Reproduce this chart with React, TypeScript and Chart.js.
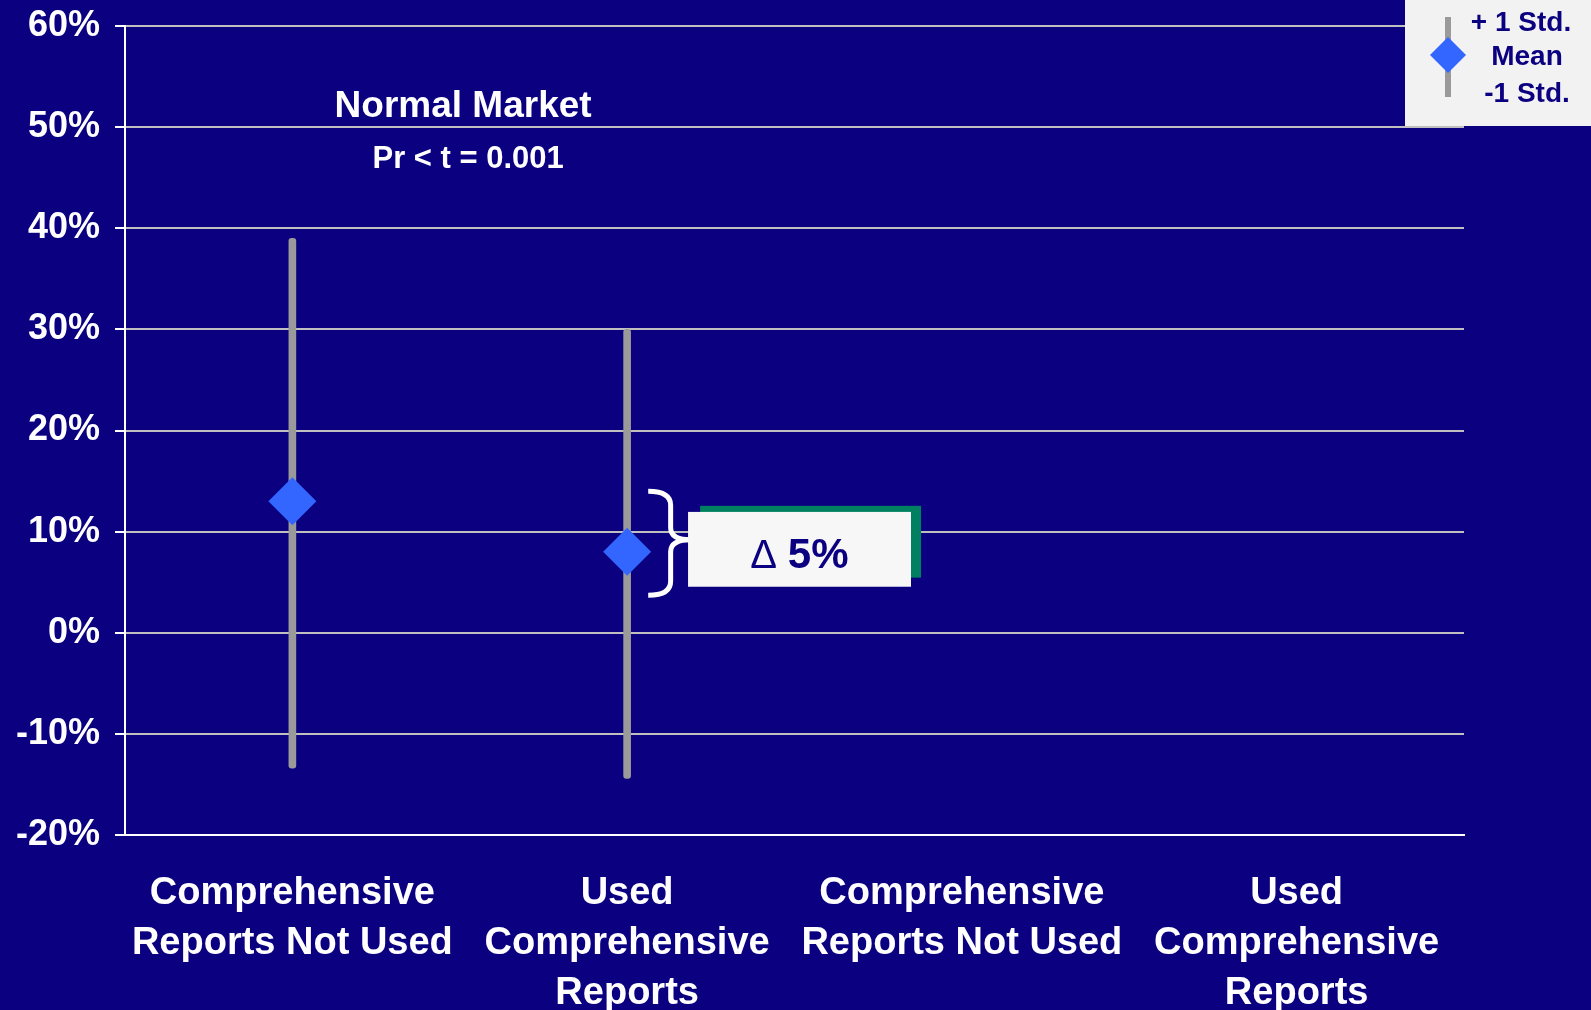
import React, { useEffect, useRef } from "react";
import { Chart, registerables } from "chart.js";

Chart.register(...registerables);

// ---- data ----
const categories: string[][] = [
  ["Comprehensive", "Reports Not Used"],
  ["Used", "Comprehensive", "Reports"],
  ["Comprehensive", "Reports Not Used"],
  ["Used", "Comprehensive", "Reports"],
];
const meanValues: (number | null)[] = [13, 8, null, null];
const upperValues: (number | null)[] = [39, 30, null, null];
const lowerValues: (number | null)[] = [-13.4, -14.4, null, null];
const yMin = -20;
const yMax = 60;
const yStep = 10;
const titleText = "Normal Market";
const subtitleText = "Pr < t = 0.001";
const deltaSymbol = "\u0394";
const deltaValue = "5%";
const legendLabels = ["+ 1 Std.", "Mean", "-1 Std."];

// ---- styles ----
const BG = "#0b0080";
const NAVY = "#0b0080";
const DIAMOND = "#3366ff";
const BAR = "#9a9a9a";
const GRID = "#bfbfbf";
const FONT = "'Liberation Sans', Arial, sans-serif";

const W = 1591;
const H = 1010;

function diamond(ctx: CanvasRenderingContext2D, x: number, y: number, r: number) {
  ctx.beginPath();
  ctx.moveTo(x, y - r);
  ctx.lineTo(x + r, y);
  ctx.lineTo(x, y + r);
  ctx.lineTo(x - r, y);
  ctx.closePath();
  ctx.fill();
}

const decorPlugin = {
  id: "decor",
  beforeDraw(chart: any) {
    const ctx = chart.ctx;
    ctx.save();
    ctx.fillStyle = BG;
    ctx.fillRect(0, 0, chart.width, chart.height);
    ctx.restore();
  },
  afterDraw(chart: any) {
    const ctx: CanvasRenderingContext2D = chart.ctx;
    const xs = chart.scales.x;
    const ys = chart.scales.y;
    const x0 = xs.getPixelForValue(0);
    const x1 = xs.getPixelForValue(1);
    const xAt = (c: number) => x0 + c * (x1 - x0);
    const yAt = (v: number) => ys.getPixelForValue(v);

    ctx.save();
    // title
    ctx.fillStyle = "#ffffff";
    ctx.textAlign = "center";
    ctx.textBaseline = "alphabetic";
    ctx.font = `bold 37px ${FONT}`;
    ctx.fillText(titleText, xAt(0.51), yAt(51.0));
    ctx.font = `bold 31px ${FONT}`;
    ctx.fillText(subtitleText, xAt(0.525), yAt(46.0));

    // brace
    const bx0 = xAt(1.063);
    const bxm = xAt(1.13);
    const bxt = xAt(1.19);
    const yt = yAt(14.0);
    const yb = yAt(3.7);
    const ym = yAt(9.2);
    ctx.strokeStyle = "#ffffff";
    ctx.lineWidth = 5;
    ctx.lineCap = "butt";
    ctx.beginPath();
    ctx.moveTo(bx0, yt);
    ctx.quadraticCurveTo(bxm, yt, bxm, yt + 14);
    ctx.lineTo(bxm, ym - 12);
    ctx.quadraticCurveTo(bxm, ym, bxt, ym);
    ctx.quadraticCurveTo(bxm, ym, bxm, ym + 12);
    ctx.lineTo(bxm, yb - 14);
    ctx.quadraticCurveTo(bxm, yb, bx0, yb);
    ctx.stroke();

    // green shadow box
    ctx.fillStyle = "#008060";
    const gx0 = xAt(1.218), gx1 = xAt(1.878);
    const gy0 = yAt(12.55), gy1 = yAt(5.45);
    ctx.fillRect(gx0, gy0, gx1 - gx0, gy1 - gy0);
    // white box
    ctx.fillStyle = "#f7f7f7";
    const wx0 = xAt(1.182), wx1 = xAt(1.848);
    const wy0 = yAt(11.95), wy1 = yAt(4.55);
    ctx.fillRect(wx0, wy0, wx1 - wx0, wy1 - wy0);
    // delta text
    ctx.fillStyle = NAVY;
    ctx.textAlign = "left";
    ctx.font = `40px ${FONT}`;
    ctx.fillText(deltaSymbol, xAt(1.368), yAt(6.4));
    ctx.font = `bold 42px ${FONT}`;
    ctx.fillText(deltaValue, xAt(1.48), yAt(6.4));

    // legend
    const lx = chart.width - 186;
    ctx.fillStyle = "#f2f2f2";
    ctx.fillRect(lx, 0, 186, 126);
    ctx.fillStyle = BAR;
    ctx.fillRect(lx + 40, 17, 6, 80);
    ctx.fillStyle = DIAMOND;
    diamond(ctx, lx + 43, 55, 18);
    ctx.fillStyle = NAVY;
    ctx.textAlign = "center";
    ctx.font = `bold 28px ${FONT}`;
    ctx.fillText(legendLabels[0], lx + 116, 31);
    ctx.fillText(legendLabels[1], lx + 122, 65);
    ctx.fillText(legendLabels[2], lx + 122, 102);
    ctx.restore();
  },
};

export default function App() {
  const ref = useRef<HTMLCanvasElement | null>(null);

  useEffect(() => {
    document.body.style.margin = "0";
    document.body.style.background = BG;
    const canvas = ref.current;
    if (!canvas) return;
    const ranges = lowerValues.map((lo, i) =>
      lo === null || upperValues[i] === null ? null : [lo, upperValues[i] as number]
    );
    const chart = new Chart(canvas, {
      type: "bar",
      data: {
        labels: categories,
        datasets: [
          {
            type: "line",
            label: "Mean",
            data: meanValues,
            showLine: false,
            pointStyle: "rectRot",
            pointRadius: 24,
            pointBackgroundColor: DIAMOND,
            pointBorderColor: DIAMOND,
            pointBorderWidth: 0,
            order: 0,
          } as any,
          {
            type: "bar",
            label: "Std",
            data: ranges as any,
            backgroundColor: BAR,
            borderWidth: 0,
            barThickness: 7,
            borderRadius: 3,
            borderSkipped: false,
            order: 1,
          } as any,
        ],
      },
      options: {
        responsive: false,
        animation: false,
        events: [],
        layout: { padding: { top: 26, right: 127, left: 0, bottom: 0 } },
        plugins: {
          legend: { display: false },
          tooltip: { enabled: false },
          title: { display: false },
        },
        scales: {
          x: {
            type: "category",
            offset: true,
            grid: { display: false, drawTicks: false },
            border: { display: true, color: "#ffffff", width: 2 },
            ticks: {
              color: "#ffffff",
              font: { family: FONT, size: 38, weight: "bold", lineHeight: 1.31 },
              padding: 34,
              maxRotation: 0,
              minRotation: 0,
              autoSkip: false,
            },
            afterFit: (s: any) => {
              s.height = 175;
              s.paddingLeft = 0;
              s.paddingRight = 0;
            },
          },
          y: {
            min: yMin,
            max: yMax,
            grid: {
              color: GRID,
              lineWidth: 2,
              tickColor: "#ffffff",
              tickLength: 10,
              drawTicks: true,
            },
            border: { display: true, color: "#ffffff", width: 2 },
            ticks: {
              stepSize: yStep,
              color: "#ffffff",
              font: { family: FONT, size: 36, weight: "bold" },
              padding: 15,
              callback: (v: any) => `${v}%`,
            },
            afterFit: (s: any) => {
              s.width = 125;
              s.paddingTop = 0;
              s.paddingBottom = 0;
            },
          },
        },
      } as any,
      plugins: [decorPlugin],
    });
    return () => chart.destroy();
  }, []);

  return (
    <div style={{ position: "absolute", left: 0, top: 0, width: W, height: H, background: BG }}>
      <canvas ref={ref} width={W} height={H} style={{ display: "block", width: W, height: H }} />
    </div>
  );
}
